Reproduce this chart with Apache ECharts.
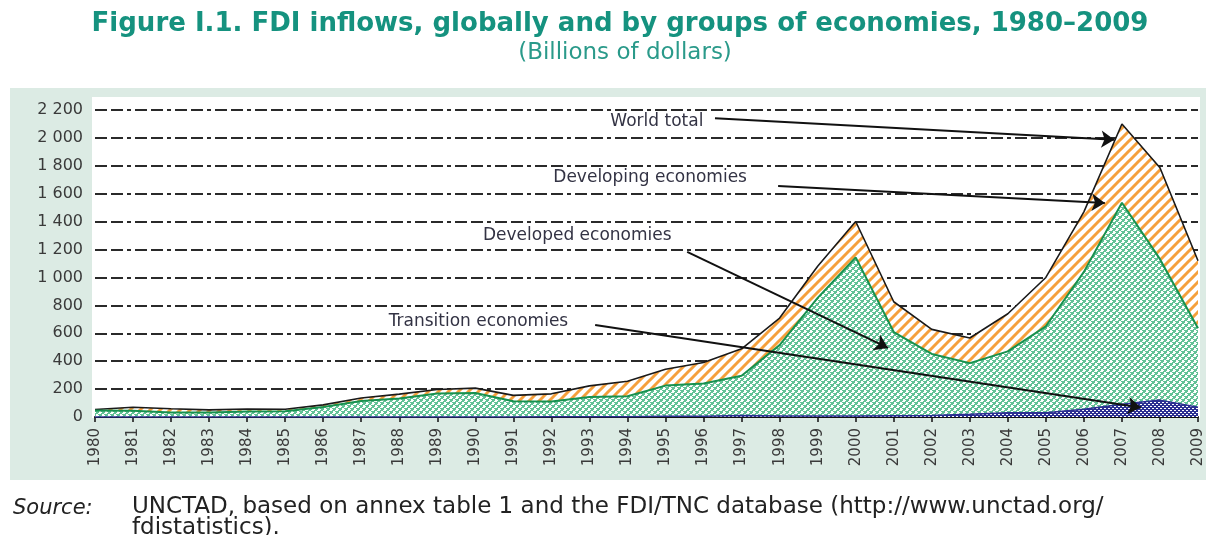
<!DOCTYPE html>
<html>
<head>
<meta charset="utf-8">
<script src="https://cdn.jsdelivr.net/npm/echarts@6/dist/echarts.min.js"></script>
<style>
  html, body { margin: 0; padding: 0; background: #ffffff; }
  #wrap { position: relative; width: 1206px; height: 535px; overflow: hidden; }
  #panel { position: absolute; left: 10px; top: 88px; width: 1196px; height: 392px; background: #dcebe4; }
  #plotbg { position: absolute; left: 92px; top: 97px; width: 1108px; height: 321px; background: #ffffff; }
  #chart { position: absolute; left: 0; top: 0; width: 1206px; height: 535px; }
</style>
</head>
<body>
<div id="wrap">
  <div id="panel"></div>
  <div id="plotbg"></div>
  <div id="chart"></div>
</div>
<script>
// ---------------- DATA (billions of dollars) ----------------
const years = [1980, 1981, 1982, 1983, 1984, 1985, 1986, 1987, 1988, 1989,
               1990, 1991, 1992, 1993, 1994, 1995, 1996, 1997, 1998, 1999,
               2000, 2001, 2002, 2003, 2004, 2005, 2006, 2007, 2008, 2009];
const transition = [0, 0, 0, 0, 0, 0, 0, 0, 0, 0,
                    0, 0, 1, 2, 2, 5, 6, 10, 8, 7,
                    7, 9, 11, 20, 30, 31, 55, 91, 121, 70];
const developed  = [47, 45, 33, 33, 39, 42, 71, 114, 133, 168,
                    172, 113, 110, 142, 147, 220, 234, 285, 507, 847,
                    1137, 600, 441, 366, 440, 619, 985, 1444, 1010, 566];
const developing = [7, 25, 26, 18, 18, 14, 16, 22, 31, 29,
                    35, 42, 55, 79, 107, 117, 150, 194, 194, 226,
                    257, 217, 176, 180, 270, 350, 430, 565, 655, 484];
const yTicks = [0, 200, 400, 600, 800, 1000, 1200, 1400, 1600, 1800, 2000, 2200];

// annotation texts and arrows (in data coordinates: [year, value])
const annotationLabels = ['World total', 'Developing economies', 'Developed economies', 'Transition economies'];
const annotationTextAt = [[1993.55, 2118], [1992.05, 1716], [1990.2, 1300], [1987.72, 683]];
const arrowFrom = [[1996.3, 2140], [1997.96, 1656], [1995.57, 1183], [1993.15, 660]];
const arrowTo   = [[2006.8, 1986], [2006.55, 1534], [2000.85, 495], [2007.5, 68]];

// ---------------- derived stacked levels (built from the arrays above) ----------------
const levelTransition = years.map((y, i) => [y, transition[i]]);
const levelDeveloped  = years.map((y, i) => [y, transition[i] + developed[i]]);
const levelWorld      = years.map((y, i) => [y, transition[i] + developed[i] + developing[i]]);

// ---------------- PATTERNS ----------------
function makeTile(w, h, draw) {
  const c = document.createElement('canvas');
  c.width = w; c.height = h;
  draw(c.getContext('2d'));
  return c;
}
const stripeTile = makeTile(10, 10, g => {
  g.fillStyle = '#ffffff'; g.fillRect(0, 0, 10, 10);
  g.strokeStyle = '#f5a03c'; g.lineWidth = 3; g.lineCap = 'square';
  [[-10, 10, 10, -10], [0, 10, 10, 0], [0, 20, 20, 0]].forEach(l => {
    g.beginPath(); g.moveTo(l[0], l[1]); g.lineTo(l[2], l[3]); g.stroke();
  });
});
const greenTile = makeTile(6, 6, g => {
  g.fillStyle = '#62c196'; g.fillRect(0, 0, 6, 6);
  g.fillStyle = '#ffffff';
  g.fillRect(0, 0, 2, 3);
  g.fillRect(3, 3, 2, 3);
  g.fillRect(2, 1, 1, 1);
  g.fillRect(5, 4, 1, 1);
  g.fillRect(2, 5, 1, 1);
  g.fillRect(5, 2, 1, 1);
});
const blueTile = makeTile(4, 4, g => {
  g.fillStyle = '#2b2f92'; g.fillRect(0, 0, 4, 4);
  g.fillStyle = '#ffffff';
  g.fillRect(0, 0, 2, 1);
  g.fillRect(2, 2, 2, 1);
});

function fmtThousands(v) {
  const s = String(v);
  return v >= 1000 ? s.slice(0, s.length - 3) + ' ' + s.slice(s.length - 3) : s;
}

const FONT = 'DejaVu Sans, Liberation Sans, Arial, sans-serif';
const chart = echarts.init(document.getElementById('chart'), null, { renderer: 'canvas' });
const option = {
  backgroundColor: 'transparent',
  animation: false,
  title: [
    {
      text: 'Figure I.1. FDI inflows, globally and by groups of economies, 1980\u20132009',
      left: 615, top: 6, textAlign: 'center',
      textStyle: { fontFamily: FONT, fontWeight: 'bold', fontSize: 26, color: '#15927f' }
    },
    {
      text: '(Billions of dollars)',
      left: 620, top: 37, textAlign: 'center',
      textStyle: { fontFamily: FONT, fontWeight: 'normal', fontSize: 23, color: '#2a9a8a' }
    },
    {
      text: 'Source:',
      left: 8, top: 493,
      textStyle: { fontFamily: FONT, fontStyle: 'italic', fontWeight: 'normal', fontSize: 21, color: '#222222' }
    },
    {
      text: 'UNCTAD, based on annex table 1 and the FDI/TNC database (http://www.unctad.org/\nfdistatistics).',
      left: 127, top: 492,
      textStyle: { fontFamily: FONT, fontWeight: 'normal', fontSize: 23, lineHeight: 21, color: '#222222' }
    }
  ],
  grid: { left: 95, right: 8, top: 110, bottom: 118, containLabel: false },
  xAxis: {
    type: 'value', min: 1980, max: 2009, interval: 1,
    axisLine: { show: true, onZero: false, lineStyle: { color: '#111111', width: 2 } },
    axisTick: { show: true, length: 5, lineStyle: { color: '#111111', width: 1.5 } },
    splitLine: { show: false },
    axisLabel: {
      rotate: 90, margin: 11, fontSize: 15, color: '#3a3a3a',
      fontFamily: FONT,
      formatter: v => String(v)
    }
  },
  yAxis: {
    type: 'value', min: 0, max: 2200, interval: 200,
    axisLine: { show: false }, axisTick: { show: false },
    axisLabel: {
      margin: 12, fontSize: 16, color: '#3a3a3a',
      fontFamily: FONT,
      formatter: v => fmtThousands(v)
    },
    splitLine: { show: true, lineStyle: { color: '#2a2a2a', width: 2, type: [12, 4, 12, 4, 4, 4] } }
  },
  series: [
    {
      name: 'World total (developing economies on top)', type: 'line', data: levelWorld,
      symbol: 'none', smooth: false, z: 2,
      lineStyle: { color: '#1a1a1a', width: 1.6 },
      areaStyle: { color: { image: stripeTile, repeat: 'repeat' }, opacity: 1 },
      markLine: {
        silent: true, symbol: ['none', 'arrow'], symbolSize: 13,
        lineStyle: { color: '#111111', width: 2, type: 'solid' },
        label: { show: false },
        z: 10,
        data: annotationLabels.map((t, i) => [{ coord: arrowFrom[i] }, { coord: arrowTo[i] }])
      },
      markPoint: {
        silent: true, symbol: 'circle', symbolSize: 0,
        label: {
          show: true, position: 'right', distance: 0, formatter: '{b}',
          fontSize: 17, color: '#333344', fontFamily: FONT
        },
        data: annotationLabels.map((t, i) => ({ name: t, coord: annotationTextAt[i] }))
      }
    },
    {
      name: 'Developed economies', type: 'line', data: levelDeveloped,
      symbol: 'none', smooth: false, z: 3,
      lineStyle: { color: '#17914f', width: 2 },
      areaStyle: { color: { image: greenTile, repeat: 'repeat' }, opacity: 1 }
    },
    {
      name: 'Transition economies', type: 'line', data: levelTransition,
      symbol: 'none', smooth: false, z: 4,
      lineStyle: { color: '#2b2f92', width: 1.5 },
      areaStyle: { color: { image: blueTile, repeat: 'repeat' }, opacity: 1 }
    }
  ]
};
chart.setOption(option);
</script>
</body>
</html>
